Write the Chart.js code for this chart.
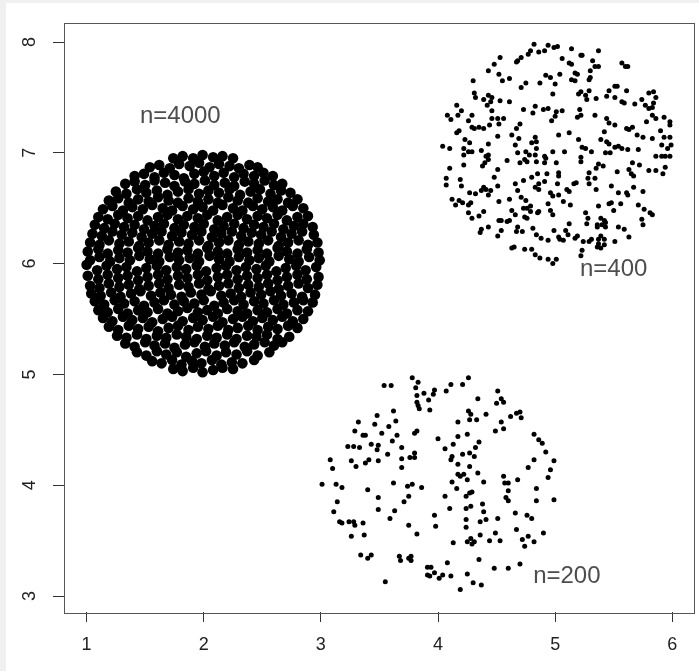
<!DOCTYPE html>
<html>
<head>
<meta charset="utf-8">
<script src="https://cdn.jsdelivr.net/npm/chart.js"></script>
<style>
  body { margin: 0; background: #f0f0f0; }
  #wrap { position: absolute; left: 6px; top: 3px; width: 693px; height: 668px; background: #fff; }
</style>
</head>
<body>
<div id="wrap"><canvas id="plot" width="693" height="668"></canvas></div>
<script>
const xTicks = [1, 2, 3, 4, 5, 6];
const yTicks = [3, 4, 5, 6, 7, 8];

const groupNames = ['n=4000', 'n=400', 'n=200'];
const nameX = [1.8, 5.5, 5.1];
const nameY = [7.33, 5.95, 3.18];

// the n=4000 disc is far too dense to read point by point, so this is a
// hand estimate of its fill (drawn with bigger dots below)
const disk4000 = [
[1.74,5.05],[1.82,5.03],[1.91,5.06],[1.99,5.02],[2.08,5.04],[2.16,5.06],[2.25,5.05],
[1.56,5.12],[1.64,5.10],[1.73,5.13],[1.81,5.09],[1.90,5.12],[1.98,5.10],[2.07,5.13],[2.15,5.09],[2.24,5.11],[2.33,5.10],[2.43,5.13],
[1.43,5.20],[1.51,5.17],[1.60,5.21],[1.68,5.18],[1.77,5.20],[1.85,5.16],[1.94,5.19],[2.02,5.21],[2.11,5.17],[2.19,5.20],[2.28,5.18],[2.37,5.21],[2.46,5.17],[2.56,5.20],
[1.33,5.28],[1.41,5.25],[1.50,5.29],[1.58,5.26],[1.67,5.28],[1.75,5.24],[1.84,5.27],[1.92,5.29],[2.01,5.25],[2.09,5.28],[2.18,5.26],[2.26,5.29],[2.35,5.25],[2.43,5.27],[2.52,5.29],[2.60,5.26],[2.67,5.29],
[1.26,5.35],[1.34,5.33],[1.43,5.36],[1.51,5.32],[1.60,5.35],[1.68,5.33],[1.77,5.36],[1.85,5.34],[1.94,5.32],[2.03,5.35],[2.11,5.33],[2.20,5.36],[2.28,5.32],[2.37,5.35],[2.45,5.34],[2.54,5.36],[2.63,5.32],[2.73,5.34],
[1.19,5.43],[1.27,5.40],[1.36,5.44],[1.44,5.41],[1.53,5.43],[1.61,5.39],[1.70,5.42],[1.78,5.44],[1.87,5.40],[1.95,5.43],[2.04,5.41],[2.12,5.44],[2.21,5.40],[2.29,5.42],[2.38,5.44],[2.46,5.40],[2.55,5.43],[2.63,5.41],[2.72,5.44],[2.80,5.42],
[1.14,5.51],[1.22,5.48],[1.31,5.52],[1.39,5.49],[1.48,5.51],[1.56,5.47],[1.65,5.50],[1.73,5.52],[1.82,5.48],[1.91,5.51],[1.99,5.49],[2.08,5.52],[2.16,5.47],[2.25,5.50],[2.33,5.52],[2.42,5.48],[2.50,5.51],[2.59,5.49],[2.67,5.52],[2.76,5.48],[2.85,5.50],
[1.10,5.58],[1.18,5.56],[1.27,5.59],[1.35,5.55],[1.44,5.58],[1.52,5.56],[1.61,5.59],[1.69,5.55],[1.78,5.57],[1.86,5.60],[1.95,5.56],[2.03,5.58],[2.12,5.55],[2.20,5.59],[2.29,5.57],[2.37,5.55],[2.46,5.58],[2.54,5.56],[2.63,5.59],[2.71,5.55],[2.80,5.58],[2.89,5.57],
[1.07,5.66],[1.15,5.63],[1.24,5.67],[1.32,5.64],[1.41,5.66],[1.49,5.62],[1.58,5.65],[1.66,5.67],[1.75,5.63],[1.83,5.66],[1.92,5.64],[2.00,5.67],[2.09,5.62],[2.17,5.65],[2.26,5.67],[2.34,5.63],[2.43,5.66],[2.51,5.64],[2.60,5.67],[2.68,5.63],[2.77,5.65],[2.85,5.67],[2.93,5.65],
[1.04,5.73],[1.12,5.71],[1.21,5.74],[1.29,5.70],[1.38,5.73],[1.46,5.75],[1.55,5.71],[1.63,5.74],[1.72,5.72],[1.81,5.70],[1.89,5.74],[1.98,5.72],[2.06,5.75],[2.15,5.71],[2.23,5.73],[2.32,5.70],[2.40,5.74],[2.49,5.72],[2.57,5.75],[2.66,5.71],[2.75,5.73],[2.84,5.70],[2.95,5.72],
[1.03,5.80],[1.11,5.78],[1.19,5.82],[1.28,5.79],[1.36,5.81],[1.45,5.77],[1.53,5.80],[1.62,5.82],[1.70,5.78],[1.79,5.81],[1.87,5.79],[1.96,5.82],[2.04,5.77],[2.13,5.80],[2.21,5.82],[2.30,5.78],[2.38,5.81],[2.47,5.79],[2.55,5.82],[2.64,5.77],[2.72,5.80],[2.81,5.82],[2.89,5.78],[2.97,5.81],
[1.01,5.89],[1.10,5.86],[1.18,5.90],[1.27,5.87],[1.35,5.89],[1.44,5.85],[1.52,5.88],[1.61,5.90],[1.69,5.86],[1.78,5.89],[1.86,5.87],[1.95,5.90],[2.03,5.85],[2.12,5.88],[2.20,5.90],[2.29,5.86],[2.37,5.89],[2.46,5.87],[2.54,5.90],[2.63,5.85],[2.71,5.88],[2.80,5.90],[2.88,5.86],[2.98,5.88],
[1.00,5.99],[1.09,5.94],[1.17,5.98],[1.26,5.95],[1.34,5.97],[1.43,5.93],[1.51,5.96],[1.60,5.98],[1.68,5.94],[1.77,5.97],[1.85,5.95],[1.94,5.98],[2.02,5.93],[2.11,5.96],[2.19,5.98],[2.28,5.94],[2.36,5.97],[2.45,5.95],[2.53,5.98],[2.62,5.93],[2.70,5.96],[2.79,5.98],[2.87,5.94],[2.96,5.97],
[1.03,6.03],[1.11,6.06],[1.20,6.02],[1.28,6.05],[1.37,6.03],[1.45,6.07],[1.54,6.04],[1.62,6.02],[1.71,6.06],[1.79,6.03],[1.88,6.05],[1.96,6.02],[2.05,6.07],[2.13,6.04],[2.22,6.02],[2.30,6.06],[2.39,6.03],[2.47,6.05],[2.56,6.02],[2.64,6.07],[2.73,6.04],[2.81,6.02],[2.90,6.06],[2.99,6.03],
[1.01,6.11],[1.10,6.13],[1.18,6.09],[1.27,6.12],[1.35,6.10],[1.44,6.14],[1.52,6.11],[1.61,6.09],[1.69,6.13],[1.78,6.10],[1.86,6.12],[1.95,6.09],[2.03,6.14],[2.12,6.11],[2.20,6.09],[2.29,6.13],[2.37,6.10],[2.46,6.12],[2.54,6.09],[2.63,6.14],[2.71,6.11],[2.80,6.09],[2.88,6.13],[2.98,6.10],
[1.03,6.19],[1.11,6.17],[1.19,6.21],[1.28,6.18],[1.36,6.20],[1.45,6.16],[1.53,6.19],[1.62,6.21],[1.70,6.17],[1.79,6.20],[1.87,6.18],[1.96,6.21],[2.04,6.16],[2.13,6.19],[2.21,6.21],[2.30,6.17],[2.38,6.20],[2.47,6.18],[2.55,6.21],[2.64,6.16],[2.72,6.19],[2.81,6.21],[2.89,6.17],[2.97,6.19],
[1.05,6.27],[1.13,6.25],[1.22,6.29],[1.30,6.26],[1.39,6.28],[1.47,6.24],[1.56,6.27],[1.64,6.29],[1.73,6.25],[1.81,6.28],[1.90,6.26],[1.98,6.29],[2.07,6.24],[2.15,6.27],[2.24,6.29],[2.32,6.25],[2.41,6.28],[2.49,6.26],[2.58,6.29],[2.66,6.24],[2.75,6.27],[2.84,6.29],[2.94,6.26],
[1.07,6.35],[1.15,6.32],[1.24,6.36],[1.32,6.33],[1.41,6.35],[1.49,6.31],[1.58,6.34],[1.66,6.36],[1.75,6.32],[1.83,6.35],[1.92,6.33],[2.00,6.36],[2.09,6.31],[2.17,6.34],[2.26,6.36],[2.34,6.32],[2.43,6.35],[2.51,6.33],[2.60,6.36],[2.68,6.31],[2.77,6.34],[2.85,6.36],[2.93,6.33],
[1.10,6.42],[1.18,6.40],[1.27,6.44],[1.35,6.41],[1.44,6.43],[1.52,6.39],[1.61,6.42],[1.69,6.44],[1.78,6.40],[1.86,6.43],[1.95,6.41],[2.03,6.44],[2.12,6.39],[2.20,6.42],[2.29,6.44],[2.37,6.40],[2.46,6.43],[2.54,6.41],[2.63,6.44],[2.71,6.39],[2.80,6.42],[2.89,6.43],
[1.14,6.49],[1.22,6.52],[1.31,6.48],[1.39,6.51],[1.48,6.49],[1.56,6.53],[1.65,6.50],[1.73,6.48],[1.82,6.52],[1.91,6.49],[1.99,6.51],[2.08,6.48],[2.16,6.53],[2.25,6.50],[2.33,6.48],[2.42,6.52],[2.50,6.49],[2.59,6.51],[2.67,6.48],[2.76,6.52],[2.85,6.50],
[1.19,6.57],[1.27,6.59],[1.36,6.55],[1.44,6.58],[1.53,6.56],[1.61,6.60],[1.70,6.57],[1.78,6.55],[1.87,6.59],[1.95,6.56],[2.04,6.58],[2.12,6.55],[2.21,6.60],[2.29,6.57],[2.38,6.55],[2.46,6.59],[2.55,6.56],[2.63,6.58],[2.72,6.55],[2.80,6.58],
[1.25,6.65],[1.34,6.63],[1.43,6.67],[1.51,6.64],[1.60,6.66],[1.69,6.62],[1.78,6.65],[1.87,6.67],[1.96,6.63],[2.04,6.66],[2.13,6.64],[2.22,6.67],[2.31,6.62],[2.40,6.65],[2.48,6.67],[2.57,6.63],[2.66,6.66],[2.74,6.64],
[1.33,6.72],[1.41,6.74],[1.50,6.71],[1.58,6.75],[1.67,6.73],[1.75,6.70],[1.84,6.74],[1.92,6.72],[2.01,6.75],[2.09,6.71],[2.18,6.73],[2.26,6.70],[2.35,6.74],[2.43,6.72],[2.52,6.75],[2.60,6.71],[2.67,6.72],
[1.41,6.79],[1.49,6.81],[1.58,6.78],[1.66,6.82],[1.75,6.80],[1.83,6.77],[1.92,6.81],[2.00,6.83],[2.09,6.79],[2.17,6.82],[2.26,6.78],[2.34,6.81],[2.43,6.79],[2.51,6.82],[2.59,6.79],
[1.54,6.87],[1.62,6.89],[1.71,6.86],[1.79,6.90],[1.88,6.88],[1.96,6.91],[2.05,6.87],[2.13,6.90],[2.22,6.88],[2.30,6.86],[2.39,6.89],[2.46,6.87],
[1.74,6.95],[1.82,6.97],[1.91,6.95],[1.99,6.98],[2.08,6.96],[2.16,6.97],[2.25,6.95]
];

const disk400 = [
[4.82,7.98],[4.94,7.97],[4.99,7.95],[5.02,7.96],[4.91,7.92],[4.86,7.91],[4.77,7.89],[4.79,7.92],[4.71,7.86],[4.68,7.83],[4.67,7.82],[4.53,7.86],[4.48,7.80],[4.43,7.74],[4.52,7.71],[4.55,7.65],[4.61,7.67],[4.30,7.65],[4.75,7.63],[4.71,7.59],[4.92,7.70],[4.96,7.68],[4.87,7.63],[5.00,7.62],[4.31,7.54],[4.32,7.50],[4.43,7.52],[4.46,7.50],[4.39,7.48],[4.42,7.43],[4.45,7.46],[4.53,7.47],[4.61,7.46],[4.98,7.53],[4.16,7.43],[4.20,7.38],[4.08,7.34],[4.11,7.30],[4.29,7.34],[4.26,7.29],[4.17,7.34],[4.46,7.38],[4.73,7.39],[4.83,7.42],[4.81,7.36],[4.90,7.39],[4.94,7.40],[5.01,7.37],[5.00,7.33],[4.97,7.29],[4.46,7.31],[4.51,7.31],[4.56,7.31],[4.29,7.23],[4.31,7.22],[4.35,7.23],[4.39,7.22],[4.44,7.25],[4.52,7.26],[4.70,7.26],[4.67,7.22],[4.18,7.20],[4.16,7.18],[5.03,7.16],[4.51,7.15],[4.63,7.16],[4.69,7.13],[4.83,7.14],[4.84,7.10],[4.80,7.09],[4.23,7.12],[4.27,7.09],[4.43,7.08],[4.04,7.06],[4.10,7.04],[4.22,7.04],[4.26,7.01],[4.29,7.01],[4.37,7.02],[4.66,7.07],[4.75,7.01],[4.84,7.04],[4.98,7.01],[4.78,6.98],[4.43,6.98],
[5.14,7.94],[5.22,7.88],[5.23,7.88],[5.37,7.92],[5.06,7.85],[5.12,7.81],[5.14,7.80],[5.32,7.83],[5.34,7.78],[5.37,7.78],[5.30,7.74],[5.17,7.72],[5.19,7.71],[5.14,7.66],[5.17,7.65],[5.04,7.71],[5.30,7.68],[5.29,7.66],[5.57,7.81],[5.60,7.78],[5.62,7.78],[5.22,7.55],[5.20,7.53],[5.29,7.56],[5.26,7.52],[5.27,7.48],[5.35,7.49],[5.46,7.56],[5.44,7.51],[5.51,7.50],[5.51,7.60],[5.53,7.60],[5.61,7.56],[5.57,7.46],[5.59,7.45],[5.68,7.44],[5.74,7.48],[5.80,7.54],[5.84,7.55],[5.86,7.50],[5.84,7.45],[5.83,7.41],[5.80,7.40],[5.77,7.43],[5.83,7.34],[5.86,7.31],[5.93,7.32],[5.98,7.28],[5.98,7.25],[5.06,7.38],[5.21,7.39],[5.22,7.34],[5.19,7.32],[5.34,7.34],[5.44,7.31],[5.46,7.27],[5.51,7.25],[5.42,7.19],[5.61,7.22],[5.63,7.21],[5.66,7.23],[5.70,7.16],[5.75,7.14],[5.78,7.28],[5.90,7.20],[5.93,7.14],[5.98,7.14],[5.83,7.13],[5.12,7.18],[5.20,7.12],[5.23,7.05],[5.26,7.04],[5.39,7.12],[5.44,7.10],[5.46,7.08],[5.51,7.05],[5.54,7.06],[5.57,7.04],[5.62,7.03],[5.71,7.03],[5.31,7.01],[5.43,7.00],[5.47,7.00],[5.91,7.07],[5.96,7.04],[5.99,7.07],[5.08,7.01],
[4.22,6.98],[4.41,6.97],[4.43,6.94],[4.40,6.91],[4.38,6.88],[4.59,6.93],[4.68,7.00],[4.70,6.91],[4.74,6.94],[4.76,6.92],[4.83,6.98],[4.91,6.97],[4.92,6.95],[4.84,6.92],[4.91,6.91],[5.01,6.91],[4.10,6.86],[4.22,6.89],[4.51,6.85],[4.07,6.77],[4.19,6.76],[4.07,6.71],[4.20,6.70],[4.48,6.78],[4.66,6.72],[4.73,6.75],[4.80,6.78],[4.85,6.81],[4.93,6.81],[5.03,6.82],[5.03,6.79],[4.86,6.72],[4.91,6.74],[4.83,6.69],[4.86,6.67],[5.02,6.72],[4.39,6.69],[4.37,6.66],[4.41,6.67],[4.45,6.66],[4.51,6.70],[4.27,6.64],[4.32,6.63],[4.43,6.62],[4.68,6.66],[4.71,6.60],[4.96,6.64],[4.98,6.61],[5.03,6.62],[4.12,6.58],[4.18,6.57],[4.21,6.55],[4.28,6.55],[4.26,6.53],[4.15,6.53],[4.52,6.56],[4.61,6.58],[4.75,6.57],[4.73,6.50],[4.76,6.50],[4.79,6.52],[4.94,6.54],[4.63,6.48],[4.66,6.44],[4.74,6.42],[4.76,6.41],[4.79,6.47],[4.85,6.46],[4.86,6.47],[4.96,6.48],[4.98,6.44],[4.26,6.46],[4.39,6.47],[4.35,6.43],[4.29,6.41],[4.52,6.39],[4.54,6.39],[4.59,6.38],[4.61,6.39],[4.68,6.33],[4.72,6.29],[4.67,6.29],[4.37,6.31],[4.36,6.28],[4.43,6.33],[4.54,6.30],[4.51,6.25],[4.81,6.32],[4.84,6.26],[4.88,6.23],[4.94,6.21],[4.99,6.30],[5.03,6.24],[4.65,6.15],[4.63,6.14],[4.74,6.13],[4.80,6.13],[4.83,6.08],[4.87,6.05],[4.94,6.04],[5.01,6.04],[4.98,6.00],
[5.22,6.96],[5.22,6.92],[5.86,6.97],[5.91,6.97],[5.94,6.97],[5.98,6.97],[5.37,6.90],[5.35,6.86],[5.41,6.88],[5.66,6.91],[5.72,6.89],[5.63,6.85],[5.65,6.81],[5.67,6.79],[5.80,6.84],[5.86,6.84],[5.92,6.81],[5.94,6.87],[5.53,6.83],[5.29,6.82],[5.28,6.77],[5.34,6.77],[5.29,6.72],[5.18,6.73],[5.16,6.72],[5.10,6.67],[5.12,6.65],[5.35,6.67],[5.48,6.70],[5.54,6.64],[5.61,6.64],[5.62,6.62],[5.67,6.69],[5.75,6.65],[5.07,6.56],[5.13,6.53],[5.37,6.52],[5.46,6.54],[5.48,6.55],[5.56,6.54],[5.50,6.48],[5.71,6.53],[5.76,6.49],[5.81,6.46],[5.83,6.44],[5.26,6.46],[5.28,6.41],[5.27,6.36],[5.39,6.41],[5.42,6.39],[5.36,6.35],[5.40,6.35],[5.43,6.37],[5.36,6.33],[5.43,6.33],[5.54,6.33],[5.59,6.31],[5.74,6.40],[5.75,6.35],[5.12,6.36],[5.09,6.30],[5.11,6.26],[5.04,6.22],[5.07,6.21],[5.17,6.23],[5.19,6.25],[5.24,6.20],[5.29,6.20],[5.31,6.22],[5.37,6.22],[5.39,6.25],[5.42,6.22],[5.37,6.18],[5.36,6.15],[5.42,6.17],[5.51,6.20],[5.63,6.24],[5.23,6.12],[5.22,6.07],[5.39,6.14]
];

const disk200 = [
[3.78,4.97],[3.54,4.90],[3.60,4.90],[3.83,4.93],[3.81,4.88],[3.97,4.86],[3.88,4.83],[3.82,4.81],[3.96,4.82],[3.92,4.77],[3.82,4.75],[3.83,4.72],[3.84,4.69],[3.93,4.68],[3.62,4.67],[3.48,4.63],[3.32,4.57],[3.46,4.55],[3.64,4.58],[3.58,4.53],[3.29,4.49],[3.52,4.47],[3.36,4.45],[3.38,4.45],[3.80,4.47],[3.82,4.49],[3.65,4.45],[4.00,4.42],[3.61,4.40],[3.43,4.37],[3.49,4.36],[3.23,4.35],[3.28,4.35],[3.33,4.34],[3.48,4.32],[3.69,4.34],[3.80,4.29],[3.76,4.25],[3.80,4.25],[3.57,4.28],[3.08,4.23],[3.26,4.22],[3.41,4.23],[3.38,4.20],[3.49,4.22],[3.69,4.24],[3.30,4.17],[3.10,4.15],[3.69,4.16],[3.01,4.01],[3.13,4.01],[3.62,4.02],[3.78,4.01],
[4.26,4.97],[4.11,4.91],[4.21,4.91],[4.07,4.85],[4.51,4.85],[4.34,4.78],[4.54,4.78],[4.56,4.75],[4.50,4.74],[4.26,4.67],[4.28,4.64],[4.41,4.64],[4.67,4.65],[4.70,4.66],[4.62,4.62],[4.71,4.61],[4.17,4.57],[4.27,4.59],[4.33,4.59],[4.54,4.57],[4.49,4.49],[4.56,4.51],[4.17,4.44],[4.25,4.46],[4.82,4.46],[4.86,4.41],[4.89,4.38],[4.35,4.39],[4.13,4.37],[4.32,4.34],[4.06,4.33],[4.27,4.29],[4.21,4.28],[4.31,4.26],[4.12,4.26],[4.11,4.23],[4.92,4.30],[4.99,4.22],[4.82,4.23],[4.17,4.19],[4.27,4.17],[4.77,4.16],[4.96,4.14],[4.17,4.10],[4.22,4.10],[4.19,4.08],[4.34,4.11],[4.56,4.08],[4.94,4.07],[4.12,4.03],[4.25,4.05],[4.39,4.03],[4.57,4.02],[4.60,4.02],[4.68,4.05],
[3.74,3.99],[3.18,3.98],[3.40,3.96],[3.86,3.98],[3.49,3.89],[3.75,3.90],[3.14,3.85],[3.71,3.85],[3.49,3.78],[3.63,3.77],[3.11,3.76],[3.97,3.73],[3.59,3.70],[3.16,3.67],[3.18,3.66],[3.24,3.67],[3.28,3.67],[3.29,3.64],[3.36,3.66],[3.75,3.64],[3.98,3.63],[3.37,3.55],[3.26,3.54],[3.82,3.56],[3.34,3.37],[3.40,3.34],[3.43,3.37],[3.67,3.36],[3.68,3.32],[3.75,3.34],[3.77,3.36],[3.77,3.32],[3.91,3.26],[3.94,3.26],[3.97,3.21],[3.91,3.19],[3.93,3.18],[4.01,3.16],[3.55,3.13],
[4.16,3.97],[4.06,3.90],[4.24,3.90],[4.27,3.93],[4.29,3.94],[4.60,3.95],[4.58,3.89],[4.60,3.86],[4.84,3.97],[4.84,3.86],[4.99,3.87],[4.10,3.79],[4.24,3.79],[4.28,3.81],[4.38,3.83],[4.39,3.76],[4.66,3.75],[4.76,3.73],[4.80,3.70],[4.24,3.69],[4.41,3.69],[4.36,3.67],[4.51,3.70],[4.24,3.62],[4.67,3.60],[4.49,3.57],[4.90,3.57],[4.36,3.55],[4.28,3.52],[4.31,3.49],[4.29,3.47],[4.25,3.49],[4.13,3.48],[4.44,3.50],[4.53,3.50],[4.72,3.51],[4.77,3.54],[4.82,3.49],[4.74,3.45],[4.35,3.33],[4.08,3.30],[4.48,3.25],[4.60,3.25],[4.70,3.29],[4.04,3.19],[4.11,3.18],[4.25,3.20],[4.30,3.12],[4.37,3.10],[4.19,3.06]
];

// box() round the plot region, like R draws it
const boxPlugin = {
    id: 'box',
    afterDraw(chart) {
        const ctx = chart.ctx;
        const a = chart.chartArea;
        ctx.save();
        ctx.strokeStyle = '#555';
        ctx.lineWidth = 1;
        ctx.strokeRect(Math.round(a.left) + 0.5, Math.round(a.top) + 0.5,
            Math.round(a.right - a.left), Math.round(a.bottom - a.top));
        ctx.restore();
    }
};

// text() labels next to each cloud
const namePlugin = {
    id: 'names',
    afterDatasetsDraw(chart) {
        const ctx = chart.ctx;
        const sx = chart.scales.x, sy = chart.scales.y;
        ctx.save();
        ctx.fillStyle = '#4d4d4d';
        ctx.font = '24px "Liberation Sans", Arial, sans-serif';
        ctx.textAlign = 'center';
        ctx.textBaseline = 'middle';
        for (let i = 0; i < groupNames.length; i++) {
            ctx.fillText(groupNames[i], sx.getPixelForValue(nameX[i]), sy.getPixelForValue(nameY[i]));
        }
        ctx.restore();
    }
};

const tickFont = { family: 'Liberation Sans', size: 18 };

new Chart(document.getElementById('plot'), {
    type: 'scatter',
    data: {
        datasets: [
            { data: disk4000, pointRadius: 5.3, backgroundColor: '#000', borderWidth: 0 },
            { data: disk400, pointRadius: 2.5, backgroundColor: '#000', borderWidth: 0 },
            { data: disk200, pointRadius: 2.5, backgroundColor: '#000', borderWidth: 0 }
        ]
    },
    options: {
        responsive: false,
        animation: false,
        events: [],
        layout: { padding: { left: 0, right: 2.5, top: 19.5, bottom: 0 } },
        plugins: { legend: { display: false }, tooltip: { enabled: false } },
        scales: {
            x: {
                type: 'linear',
                min: 0.807,
                max: 6.183,
                afterBuildTicks: s => { s.ticks = xTicks.map(v => ({ value: v })); },
                afterFit: s => { s.height = 59; s.paddingLeft = 0; s.paddingRight = 0; },
                border: { display: false },
                grid: { drawOnChartArea: false, drawTicks: true, tickLength: 10, color: '#333' },
                ticks: { padding: 12, color: '#222', font: tickFont, minRotation: 0, maxRotation: 0, autoSkip: false }
            },
            y: {
                type: 'linear',
                min: 2.856,
                max: 8.176,
                afterBuildTicks: s => { s.ticks = yTicks.map(v => ({ value: v })); },
                afterFit: s => { s.width = 58; s.paddingTop = 0; s.paddingBottom = 0; },
                border: { display: false },
                grid: { drawOnChartArea: false, drawTicks: true, tickLength: 11, color: '#333' },
                ticks: { padding: 18, color: '#222', font: tickFont, minRotation: 90, maxRotation: 90, crossAlign: 'center', autoSkip: false }
            }
        }
    },
    plugins: [boxPlugin, namePlugin]
});
</script>
</body>
</html>
